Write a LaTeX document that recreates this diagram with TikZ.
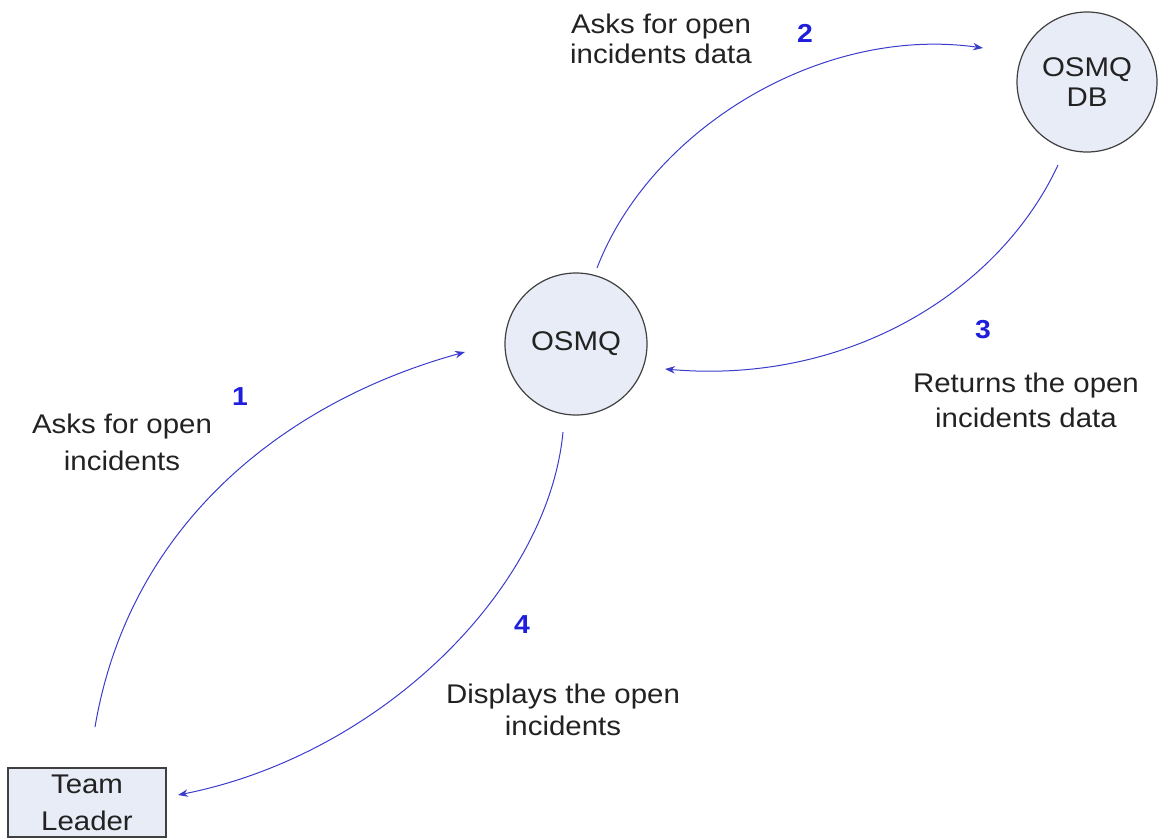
\documentclass[tikz,border=0pt]{standalone}
\usepackage{fontspec}
\setmainfont{Liberation Sans}[FakeStretch=1.09]
\usetikzlibrary{arrows.meta,calc}

\definecolor{flowblue}{HTML}{3C3CCC}
\definecolor{numblue}{HTML}{1E1EDC}
\definecolor{nodefill}{HTML}{E8ECF6}
\definecolor{edgegray}{HTML}{404040}
\definecolor{txt}{HTML}{222222}

\begin{document}
\begin{tikzpicture}[x=1pt,y=-1pt,
  proc/.style={circle, draw=edgegray, line width=1.2pt, fill=nodefill,
    minimum size=#1, inner sep=0pt, align=center, text=txt,
    font=\fontsize{27}{30}\selectfont},
  entity/.style={rectangle, draw=edgegray, line width=1.2pt, fill=nodefill,
    minimum width=158pt, minimum height=69pt, inner sep=0pt, align=center,
    text=txt, font=\fontsize{27}{37}\selectfont},
  flow/.style={draw=flowblue, line width=1pt,
    -{Stealth[length=10pt,width=7.5pt]}},
  num/.style={text=numblue, inner sep=0pt,
    font=\fontsize{26}{26}\selectfont\bfseries},
  lbl/.style={text=txt, align=center, inner sep=0pt,
    font=\fontsize{27}{#1}\selectfont}]

\useasboundingbox (0,0) rectangle (1158,839);

% processes and external entity
\node[proc=142pt] (osmq) at (576,344) {OSMQ};
\node[proc=140pt] (db) at (1087,82) {OSMQ\\DB};
\node[entity] (lead) at (87,802.5) {Team\\Leader};

% end points of the data flows
\coordinate (f1s) at (95,727);
\coordinate (f1e) at (465,352);
\coordinate (f2s) at (597,268);
\coordinate (f2e) at (983,48);
\coordinate (f3s) at (1058,165);
\coordinate (f3e) at (665,369);
\coordinate (f4s) at (563,432);
\coordinate (f4e) at (178,795);

% data flows
\draw[flow] (f1s) .. controls (130,520) and (290,400) .. (f1e);
\draw[flow] (f2s) .. controls (650,130) and (820,25) .. (f2e);
\draw[flow] (f3s) .. controls (1000,290) and (850,385) .. (f3e);
\draw[flow] (f4s) .. controls (548,590) and (380,755) .. (f4e);

% step numbers
\node[num] (n1) at (240,397) {1};
\node[num] (n2) at (805,33) {2};
\node[num] (n3) at (983,330) {3};
\node[num] (n4) at (522,625) {4};

% flow descriptions
\node[lbl=37] (t1) at (122,442) {Asks for open\\incidents};
\node[lbl=30] (t2) at (661,39) {Asks for open\\incidents data};
\node[lbl=35] (t3) at (1026,400) {Returns the open\\incidents data};
\node[lbl=32] (t4) at (563,710) {Displays the open\\incidents};
\end{tikzpicture}
\end{document}
